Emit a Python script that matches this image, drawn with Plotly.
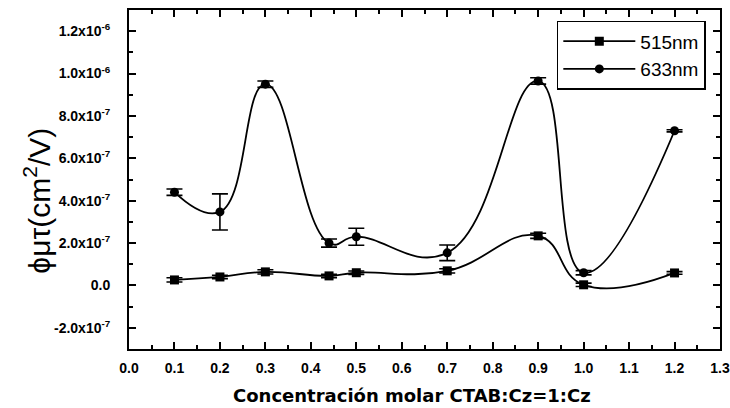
import plotly.graph_objects as go

# Molar concentration CTAB:Cz = 1:Cz
conc = [0.1, 0.2, 0.3, 0.44, 0.5, 0.7, 0.9, 1.0, 1.2]

# phi*mu*tau product (cm^2/V) at 515 nm and its uncertainty
v515 = [2.6e-8, 4.0e-8, 6.4e-8, 4.5e-8, 6.0e-8, 6.9e-8, 2.34e-7, 0.3e-8, 5.9e-8]
e515 = [1.0e-8, 0.8e-8, 1.0e-8, 0.8e-8, 0.8e-8, 1.0e-8, 1.2e-8, 0.8e-8, 0.6e-8]

# phi*mu*tau product (cm^2/V) at 633 nm and its uncertainty
v633 = [4.4e-7, 3.47e-7, 9.5e-7, 2.0e-7, 2.3e-7, 1.54e-7, 9.65e-7, 6.0e-8, 7.3e-7]
e633 = [1.5e-8, 8.5e-8, 1.5e-8, 1.9e-8, 4.0e-8, 3.7e-8, 1.5e-8, 1.0e-8, 0.5e-8]

y_tickvals = [-2e-7, 0, 2e-7, 4e-7, 6e-7, 8e-7, 1e-6, 1.2e-6]
y_ticktext = ["-2.0x10<sup>-7</sup>", "0.0", "2.0x10<sup>-7</sup>", "4.0x10<sup>-7</sup>",
              "6.0x10<sup>-7</sup>", "8.0x10<sup>-7</sup>", "1.0x10<sup>-6</sup>",
              "1.2x10<sup>-6</sup>"]
x_tickvals = [0.0, 0.1, 0.2, 0.3, 0.4, 0.5, 0.6, 0.7, 0.8, 0.9, 1.0, 1.1, 1.2, 1.3]
x_ticktext = ["%.1f" % v for v in x_tickvals]

x_title = "<b>Concentración molar CTAB:Cz=1:Cz</b>"
y_title = "ϕμτ(cm<sup>2</sup>/V)"

fig = go.Figure()

fig.add_trace(go.Scatter(
    x=conc, y=v515, name="515nm", mode="lines+markers",
    line=dict(color="black", width=1.8, shape="spline", smoothing=1.3),
    marker=dict(symbol="square", size=9, color="black"),
    error_y=dict(type="data", array=e515, visible=True, color="black",
                 thickness=1.6, width=8),
))

fig.add_trace(go.Scatter(
    x=conc, y=v633, name="633nm", mode="lines+markers",
    line=dict(color="black", width=1.8, shape="spline", smoothing=1.3),
    marker=dict(symbol="circle", size=9, color="black"),
    error_y=dict(type="data", array=e633, visible=True, color="black",
                 thickness=1.6, width=8),
))

axis_common = dict(
    showline=True, linecolor="black", linewidth=2, mirror="allticks",
    ticks="inside", tickcolor="black", tickwidth=1.5, ticklen=7,
    showgrid=False, zeroline=False, automargin=False,
)

fig.update_xaxes(
    range=[0, 1.3], tickmode="array", tickvals=x_tickvals, ticktext=x_ticktext,
    minor=dict(ticks="inside", ticklen=4, tickcolor="black", dtick=0.05, tick0=0),
    tickfont=dict(family="Liberation Sans", size=14, color="black", weight="bold"),
    ticklabelstandoff=5,
    **axis_common,
)

fig.update_yaxes(
    range=[-3e-7, 1.3e-6], tickmode="array", tickvals=y_tickvals, ticktext=y_ticktext,
    minor=dict(ticks="inside", ticklen=4, tickcolor="black", dtick=1e-7, tick0=0),
    tickfont=dict(family="Liberation Sans", size=14, color="black", weight="bold"),
    ticklabelstandoff=14,
    **axis_common,
)

# Axis titles placed as annotations for precise positioning
fig.add_annotation(
    text=x_title, xref="paper", yref="paper", x=0.479, y=-0.1386,
    xanchor="center", yanchor="middle", showarrow=False,
    font=dict(family="DejaVu Sans", size=18, color="black"),
)
fig.add_annotation(
    text=y_title, xref="paper", yref="paper", x=-0.156, y=0.437,
    xanchor="center", yanchor="middle", showarrow=False, textangle=-90,
    font=dict(family="Liberation Sans", size=30, color="black"),
)

fig.update_layout(
    width=730, height=408,
    margin=dict(l=129, r=10, t=10, b=59, autoexpand=False),
    paper_bgcolor="white", plot_bgcolor="white",
    showlegend=True,
    legend=dict(
        x=0.976, y=0.968, xanchor="right", yanchor="top",
        bgcolor="white", bordercolor="black", borderwidth=1.5,
        font=dict(family="Liberation Sans", size=19, color="black"),
        itemwidth=72, tracegroupgap=0,
    ),
)

fig.write_html("out.html")
